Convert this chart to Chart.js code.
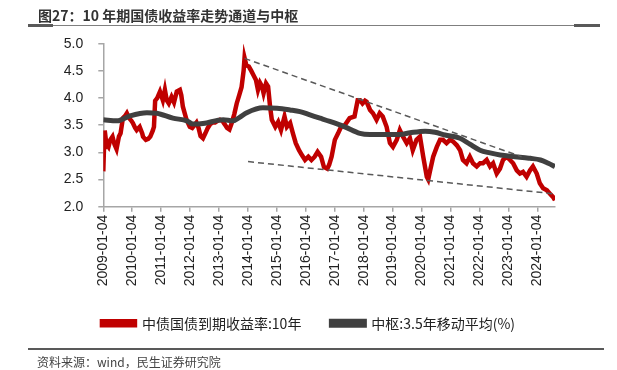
<!DOCTYPE html>
<html>
<head>
<meta charset="utf-8">
<script src="https://cdn.jsdelivr.net/npm/chart.js@4.4.1/dist/chart.umd.min.js"></script>
<style>
html,body{margin:0;padding:0;background:#fff;}
#wrap{position:relative;width:617px;height:370px;overflow:hidden;font-family:"Noto Sans CJK SC","Noto Sans",sans-serif;}
#c{position:absolute;left:0;top:0;}
#title{position:absolute;left:38px;top:5px;font-size:14px;font-weight:bold;color:#333;line-height:20px;white-space:nowrap;}
.ln{position:absolute;background:#7f7f7f;}
#src{position:absolute;left:37px;top:354px;font-size:12px;color:#444;line-height:16px;white-space:nowrap;}
</style>
</head>
<body>
<div id="wrap">
  <canvas id="c" width="617" height="370"></canvas>
  <div id="title">图27：10 年期国债收益率走势通道与中枢</div>
  <div class="ln" style="left:28px;top:25px;width:572px;height:1px;"></div>
  <div class="ln" style="left:28px;top:24px;width:25px;height:3px;background:#595959;"></div>
  <div class="ln" style="left:574px;top:24px;width:26px;height:3px;background:#595959;"></div>
  <div class="ln" style="left:28px;top:348px;width:576px;height:2px;background:#595959;"></div>
  <div id="src">资料来源：wind，民生证券研究院</div>
</div>
<script>
// ---------- data ----------
const seriesNames = ['中债国债到期收益率:10年', '中枢:3.5年移动平均(%)'];

const xTickLabels = ['2009-01-04','2010-01-04','2011-01-04','2012-01-04','2013-01-04','2014-01-04','2015-01-04','2016-01-04',
  '2017-01-04','2018-01-04','2019-01-04','2020-01-04','2021-01-04','2022-01-04','2023-01-04','2024-01-04'];
const yTickValues = [2.0, 2.5, 3.0, 3.5, 4.0, 4.5, 5.0];
const axisStart = '2009-01-04';
const axisEnd = '2024-08-15';

const redDates = [
 '2009-01-04','2009-01-13','2009-01-22','2009-02-12','2009-03-10','2009-04-02','2009-04-30','2009-05-25','2009-06-20','2009-07-20','2009-08-10','2009-09-08','2009-10-10','2009-10-28','2009-11-25','2009-12-25',
 '2010-01-12','2010-02-10','2010-03-01','2010-04-08','2010-05-10','2010-05-20','2010-06-25','2010-07-25','2010-08-20','2010-09-20','2010-10-05','2010-10-20','2010-11-15','2010-12-20',
 '2011-01-25','2011-02-20','2011-03-15','2011-04-10','2011-05-15','2011-06-15','2011-07-20','2011-08-28','2011-09-15','2011-10-05','2011-11-20','2011-12-31',
 '2012-01-31','2012-02-28','2012-03-25','2012-04-20','2012-05-15','2012-06-15','2012-07-15','2012-08-15','2012-09-15','2012-10-15','2012-11-15','2012-12-15',
 '2013-01-15','2013-02-15','2013-03-15','2013-04-15','2013-05-15','2013-06-15','2013-07-15','2013-08-15','2013-09-15','2013-10-15','2013-11-10','2013-11-22','2013-12-15',
 '2014-01-15','2014-02-15','2014-03-15','2014-04-15','2014-05-10','2014-06-05','2014-07-01','2014-07-20','2014-08-20','2014-09-15','2014-10-10','2014-11-01','2014-12-15',
 '2015-01-20','2015-02-25','2015-04-10','2015-05-10','2015-06-20','2015-07-25','2015-08-30','2015-10-10','2015-11-15','2015-12-25',
 '2016-02-05','2016-03-15','2016-04-25','2016-06-01','2016-07-15','2016-08-20','2016-10-01','2016-10-25','2016-11-25',
 '2017-01-05','2017-02-15','2017-03-25','2017-05-10','2017-07-10','2017-09-10','2017-10-20','2017-11-20','2017-12-20',
 '2018-01-20','2018-02-10','2018-03-25','2018-05-01','2018-06-15','2018-07-25','2018-09-01','2018-10-20','2018-12-01',
 '2019-01-08','2019-02-25','2019-04-05','2019-05-15','2019-07-01','2019-08-10','2019-09-15','2019-11-01','2019-12-15',
 '2020-01-25','2020-03-10','2020-03-28','2020-04-22','2020-05-30','2020-07-15','2020-08-25','2020-10-01','2020-11-15','2020-12-28',
 '2021-02-05','2021-03-25','2021-05-05','2021-06-10','2021-07-25','2021-09-05','2021-10-15','2021-12-01',
 '2022-01-12','2022-02-18','2022-04-05','2022-05-18','2022-06-25','2022-08-10','2022-09-20','2022-10-28','2022-12-12',
 '2023-01-25','2023-03-05','2023-04-20','2023-05-30','2023-07-08','2023-08-22','2023-10-05','2023-11-10','2023-12-28',
 '2024-02-05','2024-03-18','2024-05-05','2024-06-12','2024-07-20','2024-08-14'
];
const redValues = [
 2.65,3.10,3.40,3.15,3.10,3.23,3.29,3.15,3.06,3.29,3.35,3.63,3.68,3.72,3.63,3.58,
 3.54,3.45,3.41,3.47,3.35,3.29,3.23,3.25,3.29,3.40,3.47,3.95,4.00,4.12,
 3.96,4.15,3.96,3.90,4.02,3.92,4.12,4.15,4.05,3.84,3.60,3.47,
 3.45,3.50,3.55,3.45,3.30,3.26,3.35,3.45,3.52,3.55,3.55,3.58,
 3.60,3.58,3.52,3.45,3.42,3.55,3.70,3.90,4.05,4.20,4.50,4.74,4.60,
 4.58,4.50,4.42,4.33,4.15,4.28,4.21,4.09,4.27,4.21,3.84,3.60,3.47,
 3.56,3.41,3.66,3.47,3.54,3.35,3.17,3.04,2.95,2.86,
 2.92,2.86,2.92,3.01,2.92,2.73,2.70,2.77,2.92,
 3.23,3.35,3.47,3.50,3.63,3.66,3.96,3.96,3.90,
 3.95,3.93,3.78,3.72,3.60,3.72,3.66,3.47,3.17,
 3.10,3.23,3.41,3.29,3.17,3.26,3.04,3.23,3.29,
 2.92,2.55,2.50,2.67,2.92,3.10,3.23,3.23,3.17,3.23,
 3.20,3.13,3.04,2.86,2.80,2.92,2.80,2.74,
 2.80,2.80,2.86,2.74,2.80,2.61,2.70,2.86,2.92,
 2.86,2.80,2.67,2.61,2.64,2.55,2.67,2.74,2.61,
 2.43,2.34,2.30,2.24,2.18,2.12
];

const grayDates = ['2009-01-04','2009-06-25','2009-12-05','2010-07-08','2010-11-10','2011-06-01','2011-11-25','2012-02-10','2012-06-15',
 '2013-02-25','2013-06-28','2013-09-25','2013-12-20','2014-07-12','2015-01-05','2015-06-18','2015-10-22','2016-02-25','2016-07-01',
 '2016-11-03','2017-05-10','2017-11-17','2018-03-25','2018-10-01','2019-04-08','2019-08-12','2020-02-18','2020-06-22','2020-10-27',
 '2021-05-04','2021-09-05','2022-01-12','2022-05-18','2022-09-23','2023-03-28','2023-08-04','2023-10-08','2024-02-13','2024-05-22','2024-08-15'];
const grayValues = [3.60,3.58,3.67,3.73,3.72,3.63,3.58,3.52,3.53,
 3.60,3.58,3.65,3.73,3.82,3.81,3.78,3.75,3.69,3.63,
 3.57,3.47,3.35,3.33,3.33,3.33,3.36,3.39,3.37,3.32,
 3.26,3.15,3.04,2.99,2.95,2.92,2.90,2.89,2.86,2.80,2.74];

const upperTrendDates = ['2013-11-22','2023-06-20'];
const upperTrendValues = [4.73, 2.92];
const lowerTrendDates = ['2014-01-05','2024-08-15'];
const lowerTrendValues = [2.83, 2.235];

// ---------- helpers ----------
function toYear(s){
  const [y,m,d] = s.split('-').map(Number);
  const t0 = Date.UTC(y,0,1), t1 = Date.UTC(y+1,0,1), t = Date.UTC(y,m-1,d);
  return y + (t - t0)/(t1 - t0);
}
function pts(dates, vals){ return dates.map((d,i)=>({x: toYear(d), y: vals[i]})); }

const FONT = '"Noto Sans CJK SC","Noto Sans",sans-serif';
const TICKFONT = '"Liberation Sans",Arial,sans-serif';
const AXIS = '#a6a6a6';

new Chart(document.getElementById('c'), {
  type: 'line',
  data: {
    datasets: [
      {label: seriesNames[0], data: pts(redDates, redValues), borderColor:'#c00000', backgroundColor:'#c00000',
       borderWidth:4.5, pointRadius:0, tension:0, order:3},
      {label: seriesNames[1], data: pts(grayDates, grayValues), borderColor:'#404040', backgroundColor:'#404040',
       borderWidth:5, pointRadius:0, cubicInterpolationMode:'monotone', order:2},
      {label: 'upper', data: pts(upperTrendDates, upperTrendValues), borderColor:'#595959', borderWidth:1.5,
       borderDash:[6,4], pointRadius:0, order:1},
      {label: 'lower', data: pts(lowerTrendDates, lowerTrendValues), borderColor:'#595959', borderWidth:1.5,
       borderDash:[6,4], pointRadius:0, order:1}
    ]
  },
  options: {
    responsive:false, animation:false, devicePixelRatio:1,
    layout:{padding:{left:0,right:0,top:43.7,bottom:29.7}},
    plugins:{
      tooltip:{enabled:false},
      legend:{position:'bottom', align:'center',
        labels:{filter:(it)=>it.datasetIndex<2, sort:(a,b)=>a.datasetIndex-b.datasetIndex,
          boxWidth:33, boxHeight:4, padding:30, color:'#222',
          font:{family:FONT, size:14}}}
    },
    scales:{
      x:{type:'linear', min:toYear(axisStart), max:toYear(axisEnd),
        afterBuildTicks:(s)=>{ s.ticks = xTickLabels.map(l=>({value:toYear(l)})); },
        afterFit:(s)=>{ s.height = 79.6; },
        ticks:{autoSkip:false, minRotation:90, maxRotation:90, padding:3, color:'#222',
          font:{family:TICKFONT, size:14}, callback:(v,i)=>xTickLabels[i]},
        grid:{display:true, drawOnChartArea:false, drawTicks:true, tickLength:5, color:AXIS, lineWidth:1.5},
        border:{display:true, color:AXIS, width:1.5}
      },
      y:{type:'linear', min:2, max:5,
        afterBuildTicks:(s)=>{ s.ticks = yTickValues.map(v=>({value:v})); },
        afterFit:(s)=>{ s.width = 103.3; },
        ticks:{padding:15, color:'#222', font:{family:TICKFONT, size:14}, callback:(v)=>v.toFixed(1)},
        grid:{display:true, drawOnChartArea:false, drawTicks:true, tickLength:5, color:AXIS, lineWidth:1.5},
        border:{display:true, color:AXIS, width:1.5}
      },
      yR:{type:'linear', position:'right', display:true,
        afterFit:(s)=>{ s.width = 62; },
        ticks:{display:false}, grid:{display:false}, border:{display:false}
      }
    }
  }
});
</script>
</body>
</html>
